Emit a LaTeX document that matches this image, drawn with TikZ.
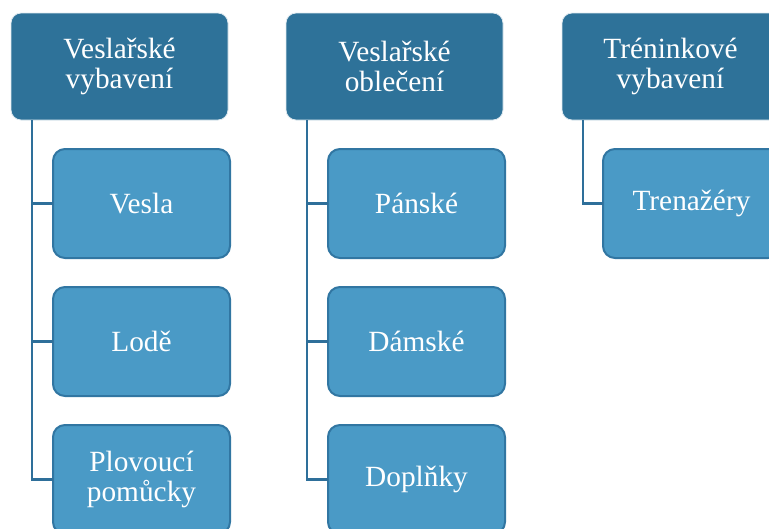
\documentclass[tikz,border=0pt]{standalone}
\usepackage{fontspec}
\setmainfont{Liberation Serif}
\definecolor{headfill}{HTML}{2E7299}
\definecolor{childfill}{HTML}{4A9AC6}
\definecolor{childedge}{HTML}{3176A2}
\definecolor{linkcol}{HTML}{2E6F9A}
\begin{document}
\begin{tikzpicture}[x=0.75pt,y=-0.75pt,
  every node/.style={inner sep=0pt, outer sep=0pt, text=white, align=center,
    font=\fontsize{22}{22.5}\selectfont},
  headbox/.style={fill=headfill, draw=white!85!headfill, line width=0.6pt,
    rounded corners=7.5pt, minimum width=162.75pt, minimum height=80.25pt},
  childbox/.style={fill=childfill, draw=childedge, line width=1.5pt,
    rounded corners=9pt, minimum width=132.75pt, minimum height=81.75pt},
  link/.style={draw=linkcol, line width=1.9pt}]
\useasboundingbox (0,0) rectangle (769,529);
\clip (0,0) rectangle (769,529);

% column heads
\node[headbox] (h1) at (119.5,66.5) {Veslařské\\vybavení};
\node[headbox] (h2) at (394.5,66.5) {Veslařské\\oblečení};
\node[headbox] (h3) at (670.5,66.5) {Tréninkové\\vybavení};

% items under each head
\node[childbox] (a1) at (141.5,203.5) {Vesla};
\node[childbox] (a2) at (141.5,341.5) {Lodě};
\node[childbox] (a3) at (141.5,479.5) {Plovoucí\\pomůcky};

\node[childbox] (b1) at (416.5,203.5) {Pánské};
\node[childbox] (b2) at (416.5,341.5) {Dámské};
\node[childbox] (b3) at (416.5,479.5) {Doplňky};

\node[childbox] (c1) at (691.5,203.5) {Trenažéry};

% connectors: one trunk per head, a branch to each item
\begin{scope}[on background layer/.try]
\foreach \h/\c in {h1/a1,h1/a2,h1/a3,h2/b1,h2/b2,h2/b3,h3/c1}
  \draw[link] ([xshift=15.75pt]\h.south west) |- (\c.west);
\end{scope}
\end{tikzpicture}
\end{document}
